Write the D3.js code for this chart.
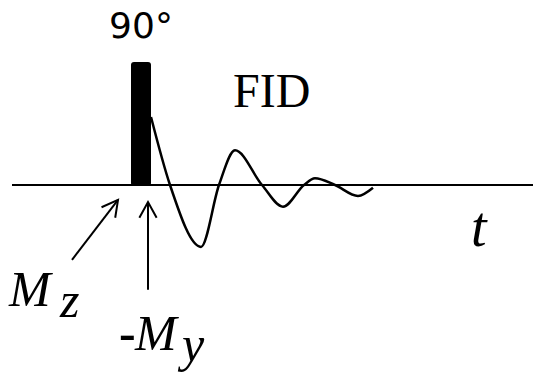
<!DOCTYPE html>
<html>
<head>
<meta charset="utf-8">
<script src="https://cdn.jsdelivr.net/npm/d3@7"></script>
<style>
  body { margin: 0; background: #fff; }
  svg { display: block; }
</style>
</head>
<body>
<svg id="fid" width="533" height="373"></svg>
<script>
// FID signal after the 90° pulse (time in arbitrary units, signal normalised to first point)
const fidTime   = [0, 1.9, 5.0, 6.8, 8.4, 11.1, 13.2, 15.3, 16.4, 18.4, 20.7, 22.2];
const fidSignal = [1, 0, -0.91, 0, 0.51, 0, -0.32, 0, 0.10, 0, -0.16, -0.04];

// pulse: start, end, height
const pulse = [-2, 0, 1.81];

// time axis extent
const axisExtent = [-13.9, 38.2];

// arrows [t0, s0, t1, s1]
const arrows = [
  [-7.9, -1.10, -3.3, -0.22],
  [-0.3, -1.54, -0.3, -0.25]
];

const svg = d3.select('#fid');

const x = d3.scaleLinear().domain(axisExtent).range([12, 533]);
const y = d3.scaleLinear().domain([-1, 1]).range([253, 117]);

// baseline / time axis
svg.append('line')
  .attr('x1', x(axisExtent[0])).attr('x2', x(axisExtent[1]))
  .attr('y1', y(0)).attr('y2', y(0))
  .attr('stroke', '#000').attr('stroke-width', 2);

// pulse bar
svg.append('rect')
  .attr('x', x(pulse[0]))
  .attr('y', y(pulse[2]))
  .attr('width', x(pulse[1]) - x(pulse[0]))
  .attr('height', y(0) - y(pulse[2]) + 1)
  .attr('rx', 3)
  .attr('fill', '#000');

// FID curve
const pts = fidTime.map((t, i) => [t, fidSignal[i]]);
const line = d3.line()
  .x(d => x(d[0]))
  .y(d => y(d[1]))
  .curve(d3.curveMonotoneX);

svg.append('path')
  .attr('d', line(pts))
  .attr('fill', 'none')
  .attr('stroke', '#000')
  .attr('stroke-width', 2.5);

// arrows with open heads
arrows.forEach(a => {
  const x0 = x(a[0]), y0 = y(a[1]), x1 = x(a[2]), y1 = y(a[3]);
  svg.append('line')
    .attr('x1', x0).attr('y1', y0).attr('x2', x1).attr('y2', y1)
    .attr('stroke', '#000').attr('stroke-width', 2);
  const ang = Math.atan2(y1 - y0, x1 - x0);
  const len = 18, spread = 0.5;
  const head = [
    [x1 - len * Math.cos(ang - spread), y1 - len * Math.sin(ang - spread)],
    [x1, y1],
    [x1 - len * Math.cos(ang + spread), y1 - len * Math.sin(ang + spread)]
  ];
  svg.append('path')
    .attr('d', d3.line()(head))
    .attr('fill', 'none')
    .attr('stroke', '#000')
    .attr('stroke-width', 2);
});

// labels
function label(txt, px, py, size, opts) {
  opts = opts || {};
  return svg.append('text')
    .attr('x', px).attr('y', py)
    .attr('text-anchor', opts.anchor || 'start')
    .style('font-family', opts.family || "'Liberation Serif'")
    .style('font-style', opts.italic ? 'italic' : 'normal')
    .style('font-weight', opts.bold ? 'bold' : 'normal')
    .style('font-size', size + 'px')
    .text(txt);
}

label('90°', x(-1), 38, 36, { anchor: 'middle', family: "'DejaVu Sans'" });
label('FID', 233, 107, 48);
label('t', 471, 246, 56, { italic: true });

label('M', 9, 306, 50, { italic: true });
label('z', 60, 317, 50, { italic: true });

label('-', 119, 350, 50, { bold: true });
label('M', 135, 350, 50, { italic: true });
label('y', 182, 361, 50, { italic: true });
</script>
</body>
</html>
